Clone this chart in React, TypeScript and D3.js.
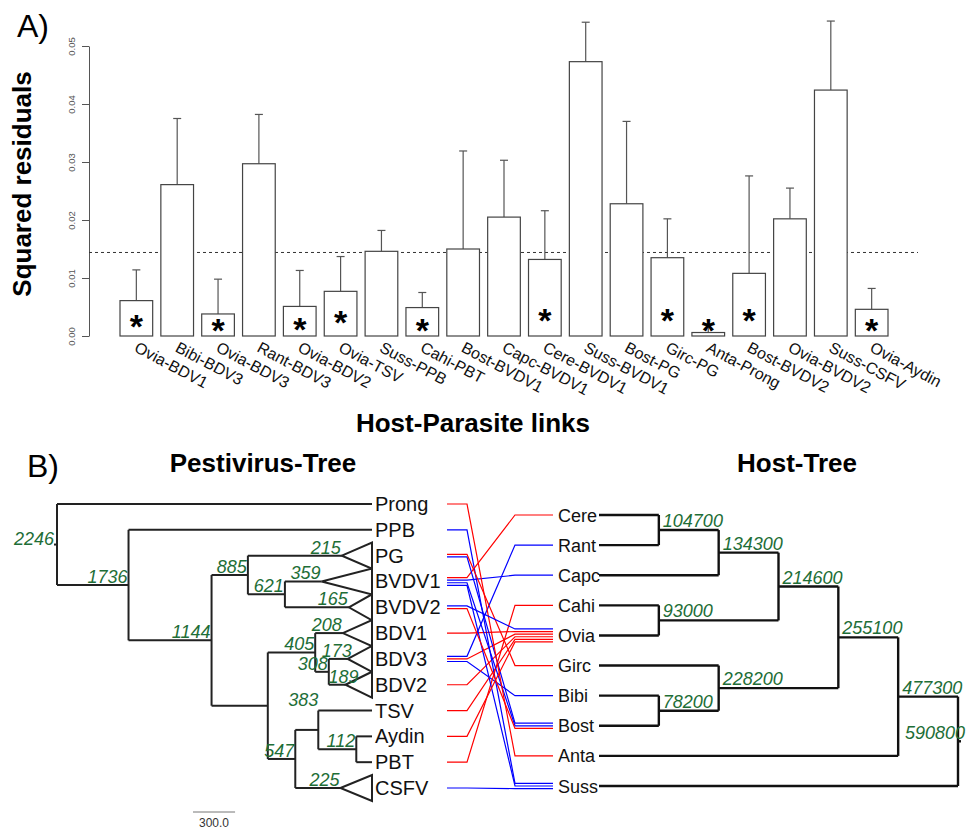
import React, { useEffect, useRef } from "react";
import * as d3 from "d3";

// Panel A: host-parasite links and their squared residuals
const links = [
  "Ovia-BDV1", "Bibi-BDV3", "Ovia-BDV3", "Rant-BDV3", "Ovia-BDV2", "Ovia-TSV",
  "Suss-PPB", "Cahi-PBT", "Bost-BVDV1", "Capc-BVDV1", "Cere-BVDV1", "Suss-BVDV1",
  "Bost-PG", "Girc-PG", "Anta-Prong", "Bost-BVDV2", "Ovia-BVDV2", "Suss-CSFV", "Ovia-Aydin",
];
const residuals = [
  0.0061, 0.0261, 0.0038, 0.0297, 0.0051, 0.0077, 0.0146, 0.0049, 0.015, 0.0205,
  0.0132, 0.0473, 0.0228, 0.0135, 0.0006, 0.0108, 0.0202, 0.0424, 0.0046,
];
const upperErr = [
  0.0114, 0.0375, 0.0098, 0.0382, 0.0113, 0.0137, 0.0182, 0.0075, 0.0319, 0.0303,
  0.0216, 0.0541, 0.037, 0.0202, 0.0019, 0.0276, 0.0255, 0.0543, 0.0082,
];
const significant = [
  true, false, true, false, true, true, false, true, false, false,
  true, false, false, true, true, true, false, false, true,
];
const threshold = 0.0144;
const yTicks = [0, 0.01, 0.02, 0.03, 0.04, 0.05];

// Panel B: pestivirus tree (node ages), collapsed clades drawn as triangles
const pestiTree = {
  age: 2246, children: [
    { name: "Prong", age: 0 },
    { age: 1736, children: [
      { name: "PPB", age: 0 },
      { age: 1144, children: [
        { age: 885, children: [
          { name: "PG", age: 215, collapsed: true },
          { age: 621, children: [
            { name: "BVDV1", age: 359, collapsed: true },
            { name: "BVDV2", age: 165, collapsed: true },
          ] },
        ] },
        { age: 743, hidden: true, children: [
          { age: 405, children: [
            { name: "BDV1", age: 208, collapsed: true },
            { age: 308, children: [
              { name: "BDV3", age: 173, collapsed: true },
              { name: "BDV2", age: 189, collapsed: true },
            ] },
          ] },
          { age: 547, children: [
            { age: 383, children: [
              { name: "TSV", age: 0 },
              { age: 112, children: [
                { name: "Aydin", age: 0 },
                { name: "PBT", age: 0 },
              ] },
            ] },
            { name: "CSFV", age: 225, collapsed: true },
          ] },
        ] },
      ] },
    ] },
  ],
};
const scaleBarLength = 300;

// Host tree (cladogram, node labels are ages)
const hostTree = {
  label: "590800", children: [
    { label: "477300", children: [
      { label: "255100", children: [
        { label: "214600", children: [
          { label: "134300", children: [
            { label: "104700", children: [{ name: "Cere" }, { name: "Rant" }] },
            { name: "Capc" },
          ] },
          { label: "93000", children: [{ name: "Cahi" }, { name: "Ovia" }] },
        ] },
        { label: "228200", children: [
          { name: "Girc" },
          { label: "78200", children: [{ name: "Bibi" }, { name: "Bost" }] },
        ] },
      ] },
      { name: "Anta" },
    ] },
    { name: "Suss" },
  ],
};

const FONT = "'Liberation Sans', Arial, Helvetica, sans-serif";
const GREEN = "#1e6e37";

export default function App() {
  const ref = useRef<SVGSVGElement>(null);

  useEffect(() => {
    const svg = d3.select(ref.current);
    svg.selectAll("*").remove();
    svg.attr("font-family", FONT);

    // ---------------- Panel A ----------------
    const x = d3.scaleBand<string>().domain(links).range([120, 888]).paddingInner(0.2);
    const y = d3.scaleLinear().domain([0, 0.05]).range([336, 46]);
    const bw = x.bandwidth();

    svg.append("text").attr("x", 17).attr("y", 37).attr("font-size", 32).text("A)");

    const yAxis = svg
      .append("g")
      .attr("transform", "translate(89,0)")
      .call(d3.axisLeft(y).tickValues(yTicks).tickSize(7).tickSizeOuter(0).tickFormat(d3.format(".2f")));
    yAxis.attr("font-family", FONT);
    yAxis.select(".domain").attr("stroke", "#555");
    yAxis.selectAll(".tick line").attr("stroke", "#555");
    yAxis
      .selectAll(".tick text")
      .attr("x", 0)
      .attr("dy", null)
      .attr("transform", "translate(-14,0) rotate(-90)")
      .attr("text-anchor", "middle")
      .attr("font-size", 9.5)
      .attr("fill", "#555");

    // threshold line
    svg
      .append("line")
      .attr("x1", 89).attr("x2", 918)
      .attr("y1", y(threshold)).attr("y2", y(threshold))
      .attr("stroke", "#333").attr("stroke-dasharray", "3,3");

    const bars = svg.append("g");
    links.forEach((l, i) => {
      const cx = x(l)! + bw / 2;
      bars.append("line")
        .attr("x1", cx).attr("x2", cx)
        .attr("y1", y(residuals[i])).attr("y2", y(upperErr[i]))
        .attr("stroke", "#555").attr("stroke-width", 1.2);
      bars.append("line")
        .attr("x1", cx - 4).attr("x2", cx + 4)
        .attr("y1", y(upperErr[i])).attr("y2", y(upperErr[i]))
        .attr("stroke", "#555").attr("stroke-width", 1.2);
      bars.append("rect")
        .attr("x", x(l)!).attr("y", y(residuals[i]))
        .attr("width", bw).attr("height", y(0) - y(residuals[i]))
        .attr("fill", "#fff").attr("stroke", "#444").attr("stroke-width", 1.2);
      if (significant[i]) {
        const sv = Math.max(0.0025, Math.min(residuals[i] / 2, 0.0042));
        bars.append("text")
          .attr("x", cx).attr("y", y(sv) + 20)
          .attr("text-anchor", "middle")
          .attr("font-size", 34).attr("font-weight", "bold")
          .text("*");
      }
      bars.append("text")
        .attr("transform", `translate(${cx - 3},351) rotate(28)`)
        .attr("font-size", 16).attr("fill", "#111")
        .text(l);
    });

    svg.append("text")
      .attr("transform", "translate(31,184) rotate(-90)")
      .attr("text-anchor", "middle").attr("font-size", 26).attr("font-weight", "bold")
      .text("Squared residuals");
    svg.append("text")
      .attr("x", 473).attr("y", 432)
      .attr("text-anchor", "middle").attr("font-size", 26).attr("font-weight", "bold")
      .text("Host-Parasite links");

    // ---------------- Panel B ----------------
    svg.append("text").attr("x", 27).attr("y", 477).attr("font-size", 32).text("B)");
    svg.append("text").attr("x", 263).attr("y", 472).attr("text-anchor", "middle")
      .attr("font-size", 26).attr("font-weight", "bold").text("Pestivirus-Tree");
    svg.append("text").attr("x", 797).attr("y", 472).attr("text-anchor", "middle")
      .attr("font-size", 26).attr("font-weight", "bold").text("Host-Tree");

    // pestivirus tree
    const pRoot: any = d3.hierarchy(pestiTree as any);
    const pLeaves = pRoot.leaves();
    const pY = d3.scalePoint<string>().domain(pLeaves.map((d: any) => d.data.name)).range([504, 788]);
    const pX = d3.scaleLinear().domain([0, 2246]).range([372, 57]);
    pRoot.eachAfter((n: any) => {
      n.px = pX(n.data.age);
      n.py = n.children ? (n.children[0].py + n.children[n.children.length - 1].py) / 2 : pY(n.data.name)!;
    });
    const pg = svg.append("g").attr("stroke", "#222").attr("stroke-width", 2).attr("fill", "none");
    pRoot.each((n: any) => {
      if (n.parent) pg.append("line").attr("x1", n.parent.px).attr("x2", n.px).attr("y1", n.py).attr("y2", n.py);
      if (n.children) {
        pg.append("line").attr("x1", n.px).attr("x2", n.px)
          .attr("y1", n.children[0].py).attr("y2", n.children[n.children.length - 1].py);
      }
      if (n.data.collapsed) {
        pg.append("path").attr("fill", "#fff")
          .attr("d", `M${n.px},${n.py}L372,${n.py - 13}L372,${n.py + 13}Z`);
      }
    });
    pg.append("line").attr("x1", pRoot.px - 3).attr("x2", pRoot.px).attr("y1", pRoot.py).attr("y2", pRoot.py);

    // scale bar
    const barLen = pX(0) - pX(scaleBarLength);
    svg.append("line").attr("x1", 193).attr("x2", 193 + barLen)
      .attr("y1", 812).attr("y2", 812).attr("stroke", "#777").attr("stroke-width", 1);
    svg.append("text").attr("x", 193 + barLen / 2).attr("y", 827).attr("text-anchor", "middle")
      .attr("font-size", 12).attr("fill", "#333").text(scaleBarLength.toFixed(1));

    pLeaves.forEach((n: any) => {
      svg.append("text").attr("x", 375).attr("y", n.py + 7).attr("font-size", 20).attr("fill", "#111").text(n.data.name);
    });
    const labelShift: Record<number, [number, number]> = { 383: [1, -22], 189: [14, 0], 173: [5, 0] };
    pRoot.each((n: any) => {
      if (n.data.hidden || (!n.children && !n.data.collapsed)) return;
      const [dx, dy] = labelShift[n.data.age] || [0, 0];
      const isRoot = !n.parent;
      svg.append("text")
        .attr("x", (isRoot ? n.px - 3 : n.px - 1) + dx)
        .attr("y", (isRoot ? n.py : n.py - 2) + dy)
        .attr("text-anchor", "end").attr("font-size", 18).attr("font-style", "italic").attr("fill", GREEN)
        .text(String(n.data.age));
    });

    // host tree
    const hRoot: any = d3.hierarchy(hostTree as any);
    const hLeaves = hRoot.leaves();
    const hY = d3.scalePoint<string>().domain(hLeaves.map((d: any) => d.data.name)).range([515, 786]);
    const hX = d3.scaleLinear().domain([0, 6]).range([599, 958]);
    hRoot.eachAfter((n: any) => {
      n.px = hX(n.height);
      n.py = n.children ? (n.children[0].py + n.children[n.children.length - 1].py) / 2 : hY(n.data.name)!;
    });
    const hg = svg.append("g").attr("stroke", "#111").attr("stroke-width", 2.4);
    hRoot.each((n: any) => {
      if (n.parent) hg.append("line").attr("x1", n.parent.px).attr("x2", n.px).attr("y1", n.py).attr("y2", n.py);
      if (n.children) {
        hg.append("line").attr("x1", n.px).attr("x2", n.px)
          .attr("y1", n.children[0].py).attr("y2", n.children[n.children.length - 1].py);
      }
    });
    hg.append("line").attr("x1", hRoot.px).attr("x2", hRoot.px + 3).attr("y1", hRoot.py).attr("y2", hRoot.py);
    hLeaves.forEach((n: any) => {
      svg.append("text").attr("x", 558).attr("y", n.py + 6.5).attr("font-size", 18).attr("fill", "#111").text(n.data.name);
    });
    hRoot.each((n: any) => {
      if (!n.children) return;
      const isRoot = !n.parent;
      svg.append("text")
        .attr("x", isRoot ? n.px - 53 : n.px + 4)
        .attr("y", isRoot ? n.py - 2 : n.py - 3)
        .attr("font-size", 18).attr("font-style", "italic").attr("fill", GREEN)
        .text(n.data.label);
    });

    // tanglegram links
    const parts = links.map((l, i) => {
      const [host, para] = l.split("-");
      const pn = pLeaves.find((d: any) => d.data.name === para);
      const hn = hLeaves.find((d: any) => d.data.name === host);
      return { host, para, py: pn.py, hy: hn.py, red: significant[i] };
    });
    const stackOffset = (key: "host" | "para", other: "hy" | "py", step: number) => {
      const m = new Map<any, number>();
      d3.group(parts, (p) => p[key]).forEach((arr) => {
        const sorted = [...arr].sort((a, b) => a[other] - b[other]);
        sorted.forEach((p, k) => m.set(p, (k - (sorted.length - 1) / 2) * step));
      });
      return m;
    };
    const pOff = stackOffset("para", "hy", 2.6);
    const hOff = stackOffset("host", "py", 2.6);
    const tg = svg.append("g").attr("fill", "none").attr("stroke-width", 1.2);
    parts.forEach((p) => {
      const y1 = p.py + pOff.get(p)!;
      const y2 = p.hy + hOff.get(p)!;
      tg.append("path")
        .attr("stroke", p.red ? "#ff0000" : "#0000ff")
        .attr("d", `M447,${y1}H467L515,${y2}H553`);
    });
  }, []);

  return (
    <svg
      ref={ref}
      width={971}
      height={830}
      style={{ position: "absolute", left: 0, top: 0, background: "#fff" }}
    />
  );
}
